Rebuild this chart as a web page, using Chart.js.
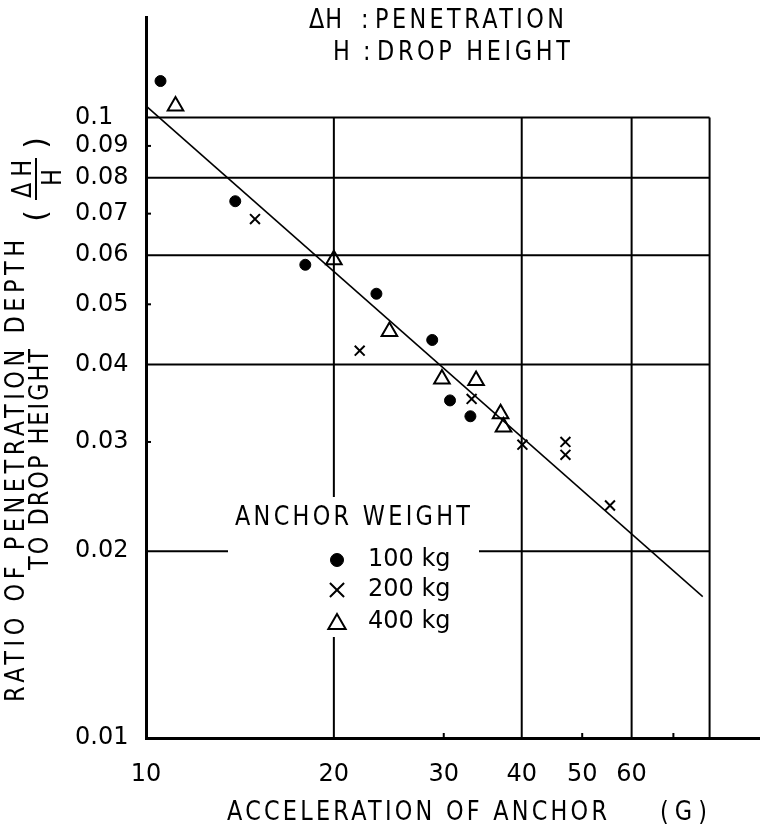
<!DOCTYPE html>
<html lang="en">
<head>
<meta charset="UTF-8">
<title>Penetration ratio vs anchor acceleration</title>
<script src="https://cdn.jsdelivr.net/npm/chart.js@4.4.0/dist/chart.umd.min.js"></script>
<style>
  html, body { margin: 0; padding: 0; background: #fff; }
</style>
</head>
<body>
<canvas id="myChart" width="770" height="829"></canvas>
<script>
// anchor weight 100 kg
const acc100 = [10.55, 13.9, 18.0, 23.4, 28.75, 30.7, 33.1];
const ratio100 = [0.1145, 0.0733, 0.0579, 0.0520, 0.0438, 0.0350, 0.0330];
// anchor weight 200 kg
const acc200 = [14.95, 22.0, 33.25, 40.1, 47.0, 47.0, 55.4];
const ratio200 = [0.0686, 0.0421, 0.0352, 0.0297, 0.0300, 0.0286, 0.0237];
// anchor weight 400 kg
const acc400 = [11.15, 20.0, 24.55, 29.8, 33.8, 37.0, 37.4];
const ratio400 = [0.1044, 0.059, 0.0452, 0.0379, 0.0377, 0.0333, 0.0317];
// fitted line (end points)
const fitAcc = [10, 78];
const fitRatio = [0.1044, 0.0169];

const xTicks = [10, 20, 30, 40, 50, 60];
const yTicks = [0.01, 0.02, 0.03, 0.04, 0.05, 0.06, 0.07, 0.08, 0.09, 0.1];
const yTickLabels = ['0.01', '0.02', '0.03', '0.04', '0.05', '0.06', '0.07', '0.08', '0.09', '0.1'];
const xGrid = [20, 40, 60, 80];
const yGrid = [0.02, 0.04, 0.06, 0.08, 0.1];
const xMinor = [30, 50, 70];
const yMinor = [0.03, 0.05, 0.07, 0.09];

const legendLabels = ['100 kg', '200 kg', '400 kg'];

const lettering = "26px 'DejaVu Sans', sans-serif";
const plain = "24px 'DejaVu Sans', sans-serif";

const circleStyle = { pointStyle: 'circle', radius: 5.5, borderWidth: 1 };
const crossStyle = { pointStyle: 'crossRot', radius: 7, borderWidth: 2 };
const triStyle = { pointStyle: 'triangle', radius: 9, borderWidth: 2 };

function toPoints(xs, ys) {
    return xs.map((v, i) => ({ x: v, y: ys[i] }));
}

// lettering-stencil look: slightly squeezed glyphs spread out to a given width
function spaced(ctx, text, x, y, width) {
    const sx = 0.86;
    ctx.save();
    ctx.letterSpacing = '0px';
    const w = ctx.measureText(text).width;
    const s = text.length > 1 ? (width / sx - w) / (text.length - 1) : 0;
    ctx.translate(x, y);
    ctx.scale(sx, 1);
    ctx.letterSpacing = s + 'px';
    ctx.textAlign = 'left';
    ctx.fillText(text, 0, 0);
    ctx.restore();
}

function seg(ctx, x1, y1, x2, y2) {
    ctx.beginPath();
    ctx.moveTo(x1, y1);
    ctx.lineTo(x2, y2);
    ctx.stroke();
}

const framePlugin = {
    id: 'frame',
    beforeDatasetsDraw(chart) {
        const { ctx } = chart;
        const x = chart.scales.x, y = chart.scales.y;
        const top = y.getPixelForValue(0.1), bottom = y.getPixelForValue(0.01);
        const left = x.getPixelForValue(10), right = x.getPixelForValue(80);
        ctx.save();
        ctx.strokeStyle = '#000';
        ctx.lineWidth = 2;
        xGrid.forEach(v => {
            const px = x.getPixelForValue(v);
            seg(ctx, px, top, px, bottom);
        });
        yGrid.forEach(v => {
            const py = y.getPixelForValue(v);
            seg(ctx, left, py, right, py);
        });
        xMinor.forEach(v => {
            const px = x.getPixelForValue(v);
            seg(ctx, px, bottom, px, bottom - 5);
        });
        yMinor.forEach(v => {
            const py = y.getPixelForValue(v);
            seg(ctx, left, py, left + 5, py);
        });
        // blank area behind the legend
        ctx.fillStyle = '#fff';
        ctx.fillRect(228, 497, 251, 140);
        ctx.restore();
    },
    afterDraw(chart) {
        const { ctx } = chart;
        ctx.save();
        ctx.fillStyle = '#000';
        ctx.strokeStyle = '#000';
        ctx.textBaseline = 'middle';

        // note at top
        ctx.font = lettering;
        spaced(ctx, 'ΔH', 309, 21, 33);
        spaced(ctx, ':', 361, 21, 4);
        spaced(ctx, 'PENETRATION', 375, 21, 189);
        spaced(ctx, 'H', 333, 53, 16);
        spaced(ctx, ':', 363, 53, 4);
        spaced(ctx, 'DROP HEIGHT', 377, 53, 193);

        // x axis title
        spaced(ctx, 'ACCELERATION OF ANCHOR', 227, 813, 380);
        spaced(ctx, '(G)', 660, 813, 47);

        // y axis title, rotated
        ctx.save();
        ctx.translate(17, 702);
        ctx.rotate(-Math.PI / 2);
        spaced(ctx, 'RATIO OF PENETRATION DEPTH', 0, 0, 462);
        ctx.restore();
        ctx.save();
        ctx.translate(41, 570);
        ctx.rotate(-Math.PI / 2);
        spaced(ctx, 'TO DROP HEIGHT', 0, 0, 221);
        ctx.restore();

        // (ΔH / H)
        ctx.save();
        ctx.translate(36, 179);
        ctx.rotate(-Math.PI / 2);
        ctx.font = lettering;
        spaced(ctx, 'ΔH', -19, -12, 38);
        spaced(ctx, 'H', -7, 18, 14);
        ctx.lineWidth = 2;
        seg(ctx, -21, 0, 21, 0);
        ctx.font = "30px 'DejaVu Sans', sans-serif";
        ctx.textAlign = 'center';
        ctx.fillText('(', -37, 2);
        ctx.fillText(')', 36, 2);
        ctx.restore();

        // legend
        ctx.font = lettering;
        spaced(ctx, 'ANCHOR WEIGHT', 235, 518, 235);
        ctx.font = plain;
        ctx.textAlign = 'left';
        const rows = [560, 590, 622];
        const marks = [
            { pointStyle: 'circle', radius: 6.5, borderWidth: 1 },
            { pointStyle: 'crossRot', radius: 10, borderWidth: 2 },
            { pointStyle: 'triangle', radius: 10, borderWidth: 2 }
        ];
        legendLabels.forEach((t, i) => {
            ctx.fillStyle = i === 0 ? '#000' : 'rgba(0,0,0,0)';
            ctx.lineWidth = marks[i].borderWidth;
            Chart.helpers.drawPoint(ctx, { ...marks[i], rotation: 0 }, 337, rows[i] + (i === 2 ? 2 : 0));
            ctx.fillStyle = '#000';
            ctx.fillText(t, 368, rows[i]);
        });
        ctx.restore();
    }
};

Chart.defaults.font.family = "'DejaVu Sans', sans-serif";
Chart.defaults.color = '#000';

new Chart(document.getElementById('myChart'), {
    type: 'scatter',
    data: {
        datasets: [
            {
                label: '100 kg',
                data: toPoints(acc100, ratio100),
                pointStyle: circleStyle.pointStyle,
                pointRadius: circleStyle.radius,
                pointBorderWidth: circleStyle.borderWidth,
                backgroundColor: '#000',
                borderColor: '#000'
            },
            {
                label: '200 kg',
                data: toPoints(acc200, ratio200),
                pointStyle: crossStyle.pointStyle,
                pointRadius: crossStyle.radius,
                pointBorderWidth: crossStyle.borderWidth,
                backgroundColor: '#000',
                borderColor: '#000'
            },
            {
                label: '400 kg',
                data: toPoints(acc400, ratio400),
                pointStyle: triStyle.pointStyle,
                pointRadius: triStyle.radius,
                pointBorderWidth: triStyle.borderWidth,
                backgroundColor: 'rgba(0,0,0,0)',
                borderColor: '#000'
            },
            {
                label: 'fit',
                data: toPoints(fitAcc, fitRatio),
                showLine: true,
                pointRadius: 0,
                borderWidth: 1.5,
                borderColor: '#000'
            }
        ]
    },
    options: {
        responsive: false,
        animation: false,
        devicePixelRatio: 1,
        layout: { padding: { left: 75, top: 14, right: 0, bottom: 0 } },
        plugins: {
            legend: { display: false },
            tooltip: { enabled: false }
        },
        scales: {
            x: {
                type: 'logarithmic',
                min: 10,
                max: 96,
                grid: { display: false, drawTicks: false },
                border: { display: true, color: '#000', width: 3 },
                afterBuildTicks: axis => { axis.ticks = xTicks.map(v => ({ value: v })); },
                afterFit: axis => { axis.height = 91; },
                ticks: {
                    autoSkip: false,
                    maxRotation: 0,
                    padding: 22,
                    font: { size: 24 },
                    color: '#000',
                    callback: v => String(v)
                }
            },
            y: {
                type: 'logarithmic',
                min: 0.01,
                max: 0.145,
                grid: { display: false, drawTicks: false },
                border: { display: true, color: '#000', width: 3 },
                afterBuildTicks: axis => { axis.ticks = yTicks.map(v => ({ value: v })); },
                afterFit: axis => { axis.width = 71; },
                ticks: {
                    autoSkip: false,
                    crossAlign: 'far',
                    font: { size: 24 },
                    color: '#000',
                    callback: v => {
                        const i = yTicks.findIndex(t => Math.abs(t - v) < 1e-9);
                        return i >= 0 ? yTickLabels[i] : '';
                    }
                }
            }
        }
    },
    plugins: [framePlugin]
});
</script>
</body>
</html>
